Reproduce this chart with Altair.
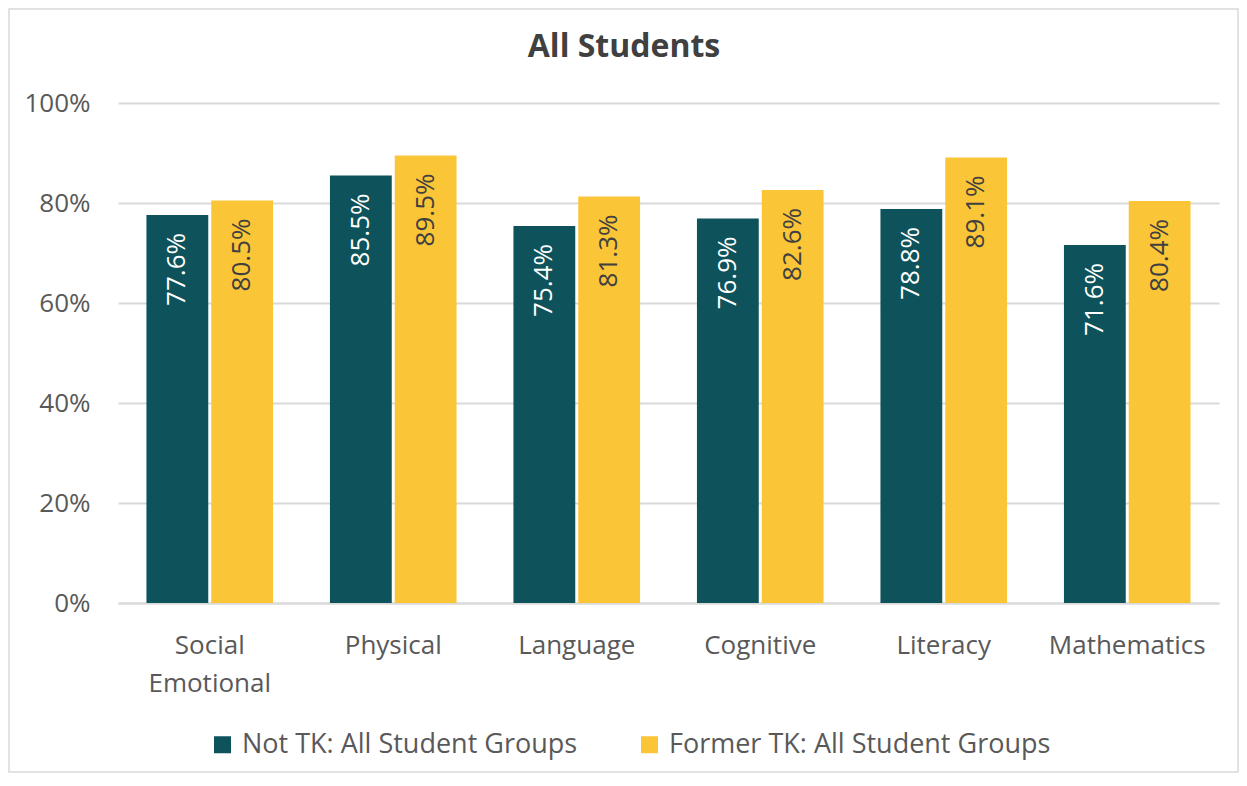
import altair as alt
import pandas as pd

categories = ["Social Emotional", "Physical", "Language", "Cognitive", "Literacy", "Mathematics"]
groups = ["Not TK: All Student Groups", "Former TK: All Student Groups"]
not_tk = [77.6, 85.5, 75.4, 76.9, 78.8, 71.6]
former_tk = [80.5, 89.5, 81.3, 82.6, 89.1, 80.4]
y_ticks = [0, 20, 40, 60, 80, 100]
colors = ["#0E535B", "#FBC538"]
title_text = "All Students"

rows = []
for c, a, b in zip(categories, not_tk, former_tk):
    rows.append({"category": c, "group": groups[0], "value": a})
    rows.append({"category": c, "group": groups[1], "value": b})
df = pd.DataFrame(rows)

FONT = "Open Sans"
GREY = "#595959"
W, H = 1101, 500

x = alt.X("category:N", sort=categories,
          scale=alt.Scale(paddingInner=0.31, paddingOuter=0.155),
          axis=alt.Axis(title=None, labelExpr="split(datum.label, ' ')", labelAngle=0,
                        labelFontSize=26, labelColor=GREY, labelFont=FONT, labelPadding=29,
                        labelLineHeight=38, ticks=False, domainColor="#D9D9D9", domainWidth=2,
                        grid=False, labelBaseline="top"))
xoff = alt.XOffset("group:N", sort=groups, scale=alt.Scale(paddingInner=0.046, paddingOuter=0))
y = alt.Y("value:Q", scale=alt.Scale(domain=[0, 100]),
          axis=alt.Axis(values=y_ticks, labelExpr="datum.value + '%'", title=None, domain=False,
                        ticks=False, gridColor="#D9D9D9", gridWidth=2, labelFontSize=26,
                        labelColor=GREY, labelPadding=28, labelFont=FONT))

bars = alt.Chart(df).mark_bar().encode(
    x=x, xOffset=xoff, y=y,
    color=alt.Color("group:N", sort=groups, scale=alt.Scale(domain=groups, range=colors),
                    legend=alt.Legend(title=None, orient="none", legendX=91, legendY=628,
                                      direction="horizontal", symbolType="square", symbolSize=289,
                                      symbolStrokeWidth=0, labelFontSize=27, labelFont=FONT,
                                      labelColor=GREY, columnPadding=58, padding=0, labelOffset=6,
                                      labelLimit=0)))

labels = alt.Chart(df).transform_calculate(
    lbl="format(datum.value, '.1f') + '%'"
).mark_text(angle=270, align="right", baseline="middle", dx=-18, fontSize=26, font=FONT).encode(
    x=x, xOffset=xoff, y=y, text="lbl:N",
    color=alt.condition(alt.datum.group == groups[0], alt.value("white"), alt.value("#404040")))

title = alt.Chart(pd.DataFrame({"t": [title_text]})).mark_text(
    fontSize=32, fontWeight="bold", font=FONT, color="#404040", align="center", baseline="alphabetic"
).encode(x=alt.value(506), y=alt.value(-46), text="t:N")

frame = alt.Chart(pd.DataFrame({"a": [0]})).mark_rect(
    fill="transparent", stroke="#D9D9D9", strokeWidth=1.5
).encode(x=alt.value(-109), x2=alt.value(W + 19), y=alt.value(-94), y2=alt.value(H + 169))

chart = alt.layer(frame, bars, labels, title).properties(
    width=W, height=H,
    padding={"left": 110, "right": 20, "top": 95, "bottom": 170},
    autosize=alt.AutoSizeParams(type="none"),
).configure_view(strokeWidth=0)

chart.save("out.html", embed_options={"renderer": "svg", "actions": False})
